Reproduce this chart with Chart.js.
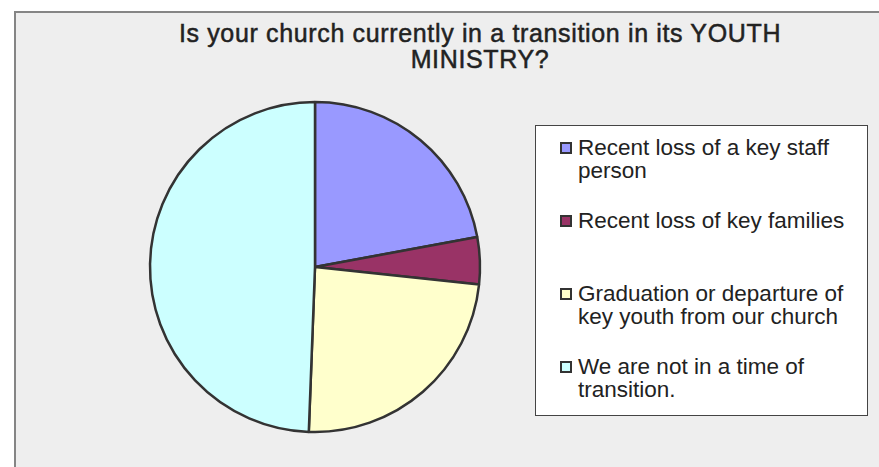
<!DOCTYPE html>
<html>
<head>
<meta charset="utf-8">
<script src="https://cdn.jsdelivr.net/npm/chart.js@4/dist/chart.umd.min.js"></script>
<style>
  html, body { margin: 0; padding: 0; background: #ffffff; width: 879px; height: 467px; overflow: hidden; }
  #frame { position: absolute; left: 14px; top: 11px; width: 900px; height: 500px; background: #eeeeee;
           border-left: 2px solid #858585; border-top: 2px solid #858585; box-sizing: border-box; }
  #title { position: absolute; left: 80px; top: 20px; width: 800px; text-align: center;
           font-family: "Liberation Sans", Arial, sans-serif; font-size: 25px; line-height: 26px; color: #222;
           letter-spacing: 0.65px; -webkit-text-stroke: 0.5px #222; }
  #wrap { position: absolute; left: 0; top: 0; width: 879px; height: 467px; }
  #legend { position: absolute; left: 535px; top: 125px; width: 333px; height: 291px; background: #ffffff;
            border: 1px solid #444; box-sizing: border-box; padding-top: 10px; }
  .item { position: relative; height: 73px; }
  .sw { position: absolute; left: 24px; top: 6px; width: 12px; height: 12px; box-sizing: border-box; border: 2px solid #333; }
  .tx { position: absolute; left: 42px; top: 0; width: 282px; font-family: "Liberation Sans", Arial, sans-serif;
        font-size: 22.5px; line-height: 23px; color: #222; }
</style>
</head>
<body>
<div id="frame"></div>
<div id="title"></div>
<div id="wrap"><canvas id="c" width="879" height="467"></canvas></div>
<div id="legend"></div>
<script>
const titleLines = ["Is your church currently in a transition in its YOUTH", "MINISTRY?"];
const categories = [
  "Recent loss of a key staff person",
  "Recent loss of key families",
  "Graduation or departure of key youth from our church",
  "We are not in a time of transition."
];
const values = [22.1, 4.6, 23.9, 49.4];
const colors = ["#9999ff", "#993366", "#ffffcc", "#ccffff"];

document.getElementById('title').innerHTML = titleLines.join('<br>');

const leg = document.getElementById('legend');
categories.forEach((lab, i) => {
  const it = document.createElement('div'); it.className = 'item';
  const sw = document.createElement('div'); sw.className = 'sw'; sw.style.background = colors[i];
  const tx = document.createElement('div'); tx.className = 'tx'; tx.textContent = lab;
  it.appendChild(sw); it.appendChild(tx); leg.appendChild(it);
});

new Chart(document.getElementById('c'), {
  type: 'pie',
  data: {
    labels: categories,
    datasets: [{
      data: values,
      backgroundColor: colors,
      borderColor: '#333333',
      borderWidth: 2.5,
      borderAlign: 'center'
    }]
  },
  options: {
    responsive: false,
    animation: false,
    radius: 165,
    layout: { padding: { left: 100, right: 349, top: 100, bottom: 33 } },
    plugins: { legend: { display: false }, tooltip: { enabled: false }, title: { display: false } }
  }
});
</script>
</body>
</html>
